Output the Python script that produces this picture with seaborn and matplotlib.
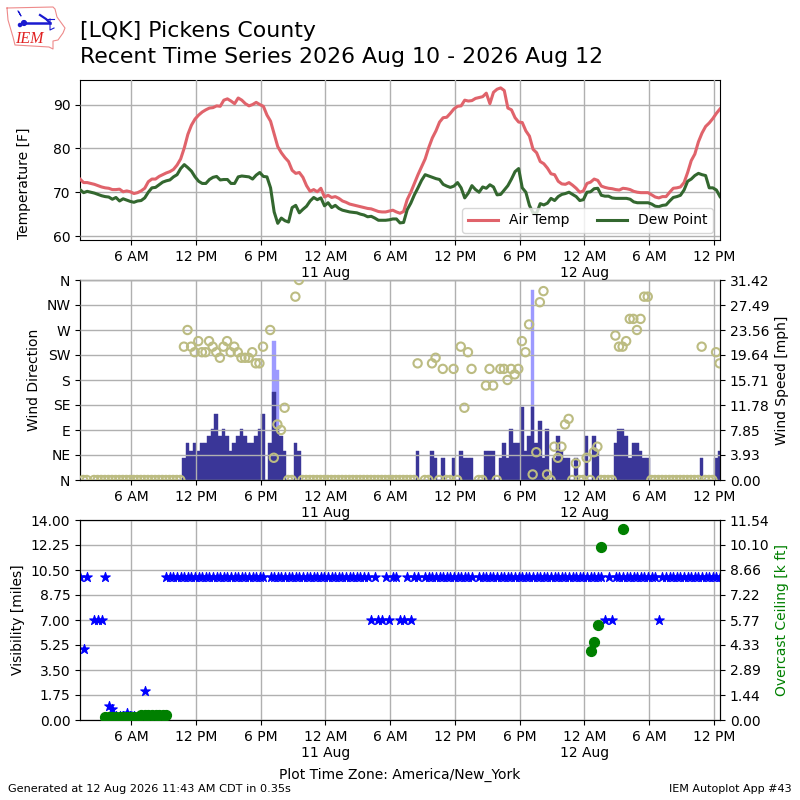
"""Recent time series plot for [LQK] Pickens County: temperature, wind, visibility."""
import matplotlib

matplotlib.use("Agg")

import matplotlib.dates as mdates
import matplotlib.pyplot as plt
import numpy as np
import pandas as pd
import seaborn as sns

nan = np.nan

_RED = "#e0636b"
_GREEN = "#33672f"
_GUST = "#9d9aff"
_SPEED = "#3a3698"
_RING = "#bcbc82"

# ── Data ──────────────────────────────────────────────────────────────

times = pd.date_range("2026-08-10 01:15", periods=179, freq="20min")
wind_times = pd.date_range("2026-08-10 01:33", periods=178, freq="20min")

air_temp = [
    73.0, 72.2, 72.2, 72.0, 71.8, 71.5, 71.2, 71.0, 70.9, 70.6,
    70.6, 70.7, 70.1, 70.3, 70.1, 69.7, 69.9, 70.3, 70.9, 72.4,
    73.0, 73.0, 73.6, 74.0, 74.4, 74.7, 75.2, 76.2, 77.6, 80.1,
    83.2, 85.3, 86.7, 87.6, 88.3, 88.8, 89.2, 89.3, 89.7, 89.6,
    91.0, 91.3, 90.8, 90.2, 91.5, 91.0, 90.2, 89.7, 90.0, 90.5,
    90.0, 89.6, 87.6, 86.2, 83.3, 80.4, 79.0, 77.9, 77.0, 75.0,
    74.3, 74.5, 73.4, 71.5, 70.2, 70.6, 70.1, 70.9, 68.9, 69.3,
    68.8, 69.0, 68.6, 68.0, 67.7, 67.3, 67.1, 66.9, 66.7, 66.5,
    66.3, 66.2, 65.9, 65.6, 65.5, 65.5, 65.7, 65.9, 65.5, 65.2,
    65.6, 68.3, 70.0, 72.0, 74.0, 75.8, 77.6, 80.2, 82.4, 84.0,
    86.0, 87.0, 87.1, 88.0, 89.0, 89.6, 89.7, 91.0, 90.8, 90.9,
    91.4, 91.6, 91.8, 92.6, 90.2, 92.8, 93.5, 93.8, 93.2, 89.2,
    88.8, 87.0, 86.0, 85.9, 84.0, 82.8, 79.8, 79.0, 77.0, 76.5,
    75.5, 74.2, 74.0, 72.5, 71.9, 71.8, 72.2, 71.6, 70.9, 70.0,
    70.3, 72.0, 72.3, 73.0, 72.7, 71.4, 71.1, 70.9, 70.8, 70.6,
    70.5, 70.9, 70.8, 70.6, 70.2, 70.0, 69.9, 69.9, 69.9, 69.4,
    68.9, 68.7, 69.0, 69.0, 70.0, 70.9, 71.0, 71.2, 72.2, 74.5,
    77.2, 78.7, 81.5, 83.5, 85.0, 85.8, 86.8, 88.0, 89.0,
]
dew_point = [
    70.6, 69.9, 70.2, 70.0, 69.8, 69.5, 69.2, 69.0, 68.9, 68.4,
    68.8, 68.0, 68.5, 68.2, 67.9, 67.7, 68.0, 68.1, 68.7, 70.0,
    71.0, 71.1, 71.7, 72.3, 72.6, 72.8, 73.5, 74.0, 75.4, 76.3,
    75.6, 74.8, 73.5, 72.5, 72.0, 72.0, 72.9, 73.4, 73.6, 72.8,
    72.9, 72.9, 72.0, 72.0, 73.5, 73.7, 73.6, 73.5, 73.0, 73.9,
    74.5, 73.6, 73.5, 71.0, 65.5, 62.9, 64.1, 63.5, 63.2, 66.5,
    67.0, 65.3, 66.1, 66.8, 68.0, 68.8, 68.3, 68.7, 66.9, 67.6,
    66.5, 67.0, 66.3, 65.9, 65.7, 65.5, 65.4, 65.3, 65.0, 64.8,
    64.4, 64.5, 64.1, 63.6, 63.6, 63.6, 63.7, 63.9, 63.9, 63.0,
    63.1, 66.0, 67.5, 69.4, 71.0, 72.7, 74.0, 73.7, 73.4, 73.1,
    72.9, 71.8, 71.4, 71.1, 71.4, 72.2, 71.0, 68.7, 69.8, 71.5,
    70.6, 70.0, 71.2, 70.9, 71.7, 71.2, 69.4, 69.5, 70.5, 71.5,
    73.0, 74.7, 75.4, 71.0, 70.0, 67.0, 65.3, 65.2, 67.4, 67.1,
    67.5, 68.6, 68.1, 69.0, 69.5, 69.7, 70.0, 69.5, 69.0, 68.1,
    68.3, 70.0, 70.1, 70.8, 70.9, 69.3, 69.1, 69.1, 68.7, 68.6,
    68.6, 68.6, 68.6, 68.4, 67.8, 67.6, 67.6, 67.6, 67.6, 67.3,
    66.8, 66.7, 67.0, 67.1, 68.0, 68.8, 69.0, 69.3, 70.5, 72.5,
    73.0, 73.8, 74.3, 74.0, 73.8, 71.0, 71.0, 70.5, 69.0,
]

wind_dir = [
    0, 0, nan, 0, 0, 0, 0, 0, 0, 0,
    0, 0, 0, 0, 0, 0, 0, 0, 0, 0,
    0, 0, 0, 0, 0, 0, 0, 0, 240, 270,
    240, 230, 250, 230, 230, 250, 240, 230, 220, 240,
    250, 230, 240, 230, 220, 220, 220, 230, 210, 210,
    240, nan, 270, 40, 100, 90, 130, 0, 0, 330,
    360, 0, 0, 0, 0, 0, 0, 0, 0, 0,
    0, 0, 0, 0, 0, 0, 0, 0, 0, 0,
    0, 0, 0, 0, 0, 0, 0, 0, 0, 0,
    0, 0, 0, 210, nan, 0, 0, 210, 220, 0,
    200, 0, 0, 200, 0, 240, 130, 230, 200, nan,
    0, 0, 170, 200, 170, 0, 200, 200, 180, 200,
    190, 200, 250, 230, 280, 10, 50, 320, 340, 10,
    0, 60, 40, 60, 100, 110, 0, 30, 0, 0,
    40, 0, 50, 60, 0, 0, 0, 0, 260, 240,
    240, 250, 290, 290, 270, 290, 330, 330, 0, 0,
    0, 0, 0, 0, 0, 0, 0, 0, 0, 0,
    0, 0, 240, 0, 0, 0, 230, 210,
]
wind_speed = [
    0, 0, 0, 0, 0, 0, 0, 0, 0, 0,
    0, 0, 0, 0, 0, 0, 0, 0, 0, 0,
    0, 0, 0, 0, 0, 0, 0, 0, 3.4, 5.8,
    4.6, 5.8, 4.6, 5.8, 5.8, 6.9, 8.0, 10.4, 6.9, 8.0,
    6.9, 4.6, 5.8, 6.9, 8.0, 6.9, 5.8, 5.8, 6.9, 8.0,
    10.4, 0, 5.8, 13.9, 8.0, 6.9, 4.6, 0, 0, 5.8,
    4.6, 0, 0, 0, 0, 0, 0, 0, 0, 0,
    0, 0, 0, 0, 0, 0, 0, 0, 0, 0,
    0, 0, 0, 0, 0, 0, 0, 0, 0, 0,
    0, 0, 0, 4.6, 0, 0, 0, 4.6, 3.5, 0,
    3.5, 0, 0, 3.5, 0, 4.6, 3.5, 3.5, 3.5, 0,
    0, 0, 4.6, 4.6, 4.6, 0, 3.5, 5.8, 3.5, 8.0,
    5.8, 5.8, 11.5, 4.6, 6.9, 11.5, 5.8, 9.3, 3.5, 8.0,
    0, 3.5, 6.9, 4.6, 3.5, 3.5, 0, 3.5, 0, 0,
    6.9, 0, 6.9, 4.6, 0, 0, 0, 0, 5.8, 8.0,
    8.0, 6.9, 3.5, 5.8, 5.8, 4.6, 3.5, 3.5, 0, 0,
    0, 0, 0, 0, 0, 0, 0, 0, 0, 0,
    0, 0, 3.5, 0, 0, 0, 3.5, 4.6,
]
gust_times = ["2026-08-10 19:13", "2026-08-10 19:33", "2026-08-11 19:13"]
gust_speed = [21.85, 17.3, 29.87]

visibility = [
    10, 5, 10, nan, 7, 7, 7, 10, 1, 0.75,
    0.25, 0.25, 0.25, 0.5, 0.25, 0.25, 0.25, 0.25, 2, 0.25,
    0.25, 0.25, 0.25, 0.25, 10, 10, 10, 10, 10, 10,
    10, 10, 10, 10, 10, 10, 10, 10, 10, 10,
    10, 10, 10, 10, 10, 10, 10, 10, 10, 10,
    10, 10, nan, 10, 10, 10, 10, 10, 10, 10,
    10, 10, 10, 10, 10, 10, 10, 10, 10, 10,
    10, 10, 10, 10, 10, 10, 10, 10, 10, 10,
    10, 7, 10, 7, 7, 10, 7, 10, 10, 7,
    7, 10, 7, 10, 10, nan, 10, 10, 10, 10,
    10, 10, 10, 10, 10, 10, 10, 10, 10, 10,
    nan, 10, 10, 10, 10, 10, 10, 10, 10, 10,
    10, 10, 10, 10, 10, 10, 10, 10, 10, 10,
    10, 10, 10, 10, 10, 10, 10, 10, 10, 10,
    10, 10, 10, 10, 10, 10, 7, 10, 7, 10,
    10, 10, 10, 10, 10, 10, 10, 10, 10, 10,
    10, 7, 10, 10, 10, 10, 10, 10, 10, 10,
    10, 10, 10, 10, 10, 10, 10, 10, 10,
]
ceiling = [
    nan, nan, nan, nan, nan, nan, nan, 0.2, 0.2, 0.2,
    0.2, 0.2, 0.2, 0.2, 0.2, 0.2, 0.2, 0.3, 0.3, 0.3,
    0.3, 0.3, 0.3, 0.3, 0.3, nan, nan, nan, nan, nan,
] + [nan] * 112 + [3.96, 4.48, 5.46, 9.96, nan, nan, nan, nan, nan, 11.0] + [nan] * 27

dir_ticks = [0, 45, 90, 135, 180, 225, 270, 315, 360]
dir_labels = ["N", "NE", "E", "SE", "S", "SW", "W", "NW", "N"]
speed_ticks = [0.00, 3.93, 7.85, 11.78, 15.71, 19.64, 23.56, 27.49, 31.42]
vis_ticks = [0.00, 1.75, 3.50, 5.25, 7.00, 8.75, 10.50, 12.25, 14.00]
ceil_ticks = [0.00, 1.44, 2.89, 4.33, 5.77, 7.22, 8.66, 10.10, 11.54]
temp_ticks = [60, 70, 80, 90]

# Iowa outline and the little station plot of the logo, in logo pixels
logo_state_x = [7, 53, 55, 57, 65, 63, 58, 53, 53, 49, 15, 13, 8, 7]
logo_state_y = [8, 7, 9, 17, 28, 33, 40, 41, 49, 47, 45, 37, 20, 8]


def _time_label(value, _pos=None):
    when = mdates.num2date(value)
    label = when.strftime("%-I %p")
    if when.hour == 0:
        label += when.strftime("\n%-d %b")
    return label


def _style_time_axis(ax):
    ax.set_xlim(pd.Timestamp("2026-08-10 01:15"), pd.Timestamp("2026-08-12 12:35"))
    ax.xaxis.set_major_locator(mdates.HourLocator(byhour=[0, 6, 12, 18]))
    ax.xaxis.set_major_formatter(_time_label)
    ax.set_xlabel("")
    ax.grid(True, color="#b0b0b0", linewidth=1.0)
    ax.set_axisbelow(False)


fig = plt.figure(figsize=(8, 8), dpi=100)

# ── Panel 1: Temperature ──────────────────────────────────────────────

ax_temp = fig.add_axes([0.1, 0.7, 0.8, 0.2])
temp_df = pd.DataFrame({"valid": times, "air": air_temp, "dew": dew_point})
sns.lineplot(data=temp_df, x="valid", y="air", ax=ax_temp, color=_RED, lw=2.2,
             label="Air Temp", errorbar=None, zorder=3)
sns.lineplot(data=temp_df, x="valid", y="dew", ax=ax_temp, color=_GREEN, lw=2.2,
             label="Dew Point", errorbar=None, zorder=3)
_style_time_axis(ax_temp)
ax_temp.set_ylim(59.1, 95.6)
ax_temp.set_yticks(temp_ticks)
ax_temp.set_ylabel("Temperature [F]")
ax_temp.yaxis.set_label_coords(-0.077, 0.356)
ax_temp.legend(loc="lower right", ncol=2, handlelength=2.15,
               bbox_to_anchor=(0.989, 0.044), borderaxespad=0.0).set_zorder(5)

# ── Panel 2: Wind ─────────────────────────────────────────────────────

ax_dir = fig.add_axes([0.1, 0.4, 0.8, 0.25])
ax_speed = ax_dir.twinx()
ax_speed.set_zorder(1)
ax_dir.set_zorder(2)
ax_dir.patch.set_visible(False)
ax_speed.patch.set_visible(True)

bar_width = pd.Timedelta(minutes=20) / pd.Timedelta(days=1)
ax_speed.bar(pd.to_datetime(gust_times), gust_speed, width=bar_width, color=_GUST,
             edgecolor=_GUST, linewidth=0.3)
ax_speed.bar(wind_times, wind_speed, width=bar_width, color=_SPEED,
             edgecolor=_SPEED, linewidth=0.3)
ax_speed.set_ylim(speed_ticks[0], speed_ticks[-1])
ax_speed.set_yticks(speed_ticks)
ax_speed.set_yticklabels([f"{v:.2f}" for v in speed_ticks])
ax_speed.set_ylabel("Wind Speed [mph]")

wind_df = pd.DataFrame({"valid": wind_times, "drct": wind_dir})
sns.scatterplot(data=wind_df, x="valid", y="drct", ax=ax_dir, marker="o", s=36,
                facecolor="none", edgecolor=_RING, linewidth=1.5, zorder=3)
_style_time_axis(ax_dir)
ax_speed.set_xlim(ax_dir.get_xlim())
ax_dir.set_ylim(0, 360)
ax_dir.set_yticks(dir_ticks)
ax_dir.set_yticklabels(dir_labels)
ax_dir.set_ylabel("Wind Direction")

# ── Panel 3: Visibility and ceiling ───────────────────────────────────

ax_vis = fig.add_axes([0.1, 0.1, 0.8, 0.25])
ax_ceil = ax_vis.twinx()
ax_vis.set_zorder(2)
ax_ceil.set_zorder(3)
ax_vis.patch.set_visible(True)
ax_ceil.patch.set_visible(False)

vis_df = pd.DataFrame({"valid": times, "vis": visibility, "ceil": ceiling})
sns.scatterplot(data=vis_df, x="valid", y="vis", ax=ax_vis, marker="*", s=52,
                color="blue", edgecolor="blue", linewidth=0.8, zorder=3)
sns.scatterplot(data=vis_df, x="valid", y="ceil", ax=ax_ceil, marker="o", s=50,
                color="green", edgecolor="green", linewidth=1.0, zorder=3)
_style_time_axis(ax_vis)
ax_ceil.set_xlim(ax_vis.get_xlim())
ax_vis.set_ylim(vis_ticks[0], vis_ticks[-1])
ax_vis.set_yticks(vis_ticks)
ax_vis.set_yticklabels([f"{v:.2f}" for v in vis_ticks])
ax_vis.set_ylabel("Visibility [miles]")
ax_ceil.set_ylim(ceil_ticks[0], ceil_ticks[-1])
ax_ceil.set_yticks(ceil_ticks)
ax_ceil.set_yticklabels([f"{v:.2f}" for v in ceil_ticks])
ax_ceil.set_ylabel("Overcast Ceiling [k ft]", color="green")
ax_vis.set_xlabel("Plot Time Zone: America/New_York", labelpad=6)

# ── Header, footer and logo ───────────────────────────────────────────

fig.text(0.1, 0.9615, "[LQK] Pickens County", fontsize=15.8, va="center")
fig.text(0.1, 0.9285, "Recent Time Series 2026 Aug 10 - 2026 Aug 12", fontsize=15.8, va="center")
fig.text(0.01, 0.0135, "Generated at 12 Aug 2026 11:43 AM CDT in 0.35s", fontsize=8.15, va="center")
fig.text(0.99, 0.0135, "IEM Autoplot App #43", fontsize=8, ha="right", va="center")

ax_logo = fig.add_axes([0, 1 - 55 / 800, 75 / 800, 55 / 800])
ax_logo.set_xlim(0, 75)
ax_logo.set_ylim(55, 0)
ax_logo.axis("off")
ax_logo.plot(logo_state_x, logo_state_y, color="#ee8a8a", lw=0.8)
ax_logo.plot([24, 50], [23, 23], color="#1a1ad0", lw=1.8)
ax_logo.plot([40, 46, 50], [15, 19, 23], color="#1a1ad0", lw=1.6)
ax_logo.plot([18, 21, 19], [11, 16, 12], color="#1a1ad0", lw=0.8)
ax_logo.plot([50, 50, 54], [19, 30, 28], color="#1a1ad0", lw=0.8)
ax_logo.plot([46, 54], [19, 19], color="#1a1ad0", lw=0.8)
ax_logo.scatter([24, 20], [23, 25], s=[12, 5], color="#1a1ad0")
ax_logo.text(15.5, 39, "IEM", color="#e02020", fontsize=11.5, style="italic",
             family="Liberation Serif", va="center")

fig.savefig("out.png", dpi=100)
